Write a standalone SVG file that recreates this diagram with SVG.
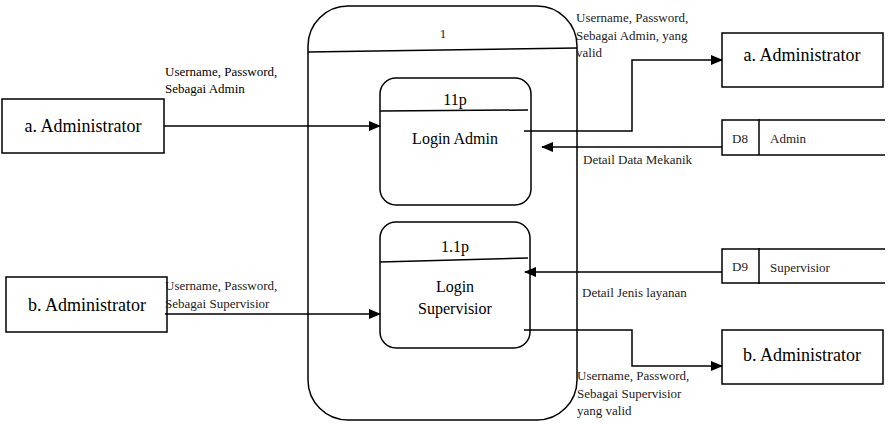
<svg xmlns="http://www.w3.org/2000/svg" width="891" height="424" viewBox="0 0 891 424">
<defs>
<marker id="ah" markerWidth="12" markerHeight="10" refX="11" refY="5" orient="auto" markerUnits="userSpaceOnUse">
<path d="M0,0 L12,5 L0,10 Z" fill="#000"/>
</marker>
<style>
.s{fill:none;stroke:#000;stroke-width:1.5}
text{font-family:'Liberation Serif',Tinos,'Times New Roman','DejaVu Serif',serif}
.t{fill:#000}
.lbl{font-size:13px;fill:#222}
.ent{font-size:18px}
.pr{font-size:16px}
.c{fill:none;stroke:#000;stroke-width:1.5}
</style>
</defs>
<rect width="891" height="424" fill="#fff"/>

<g id="process-1">
<rect x="308" y="6" width="269" height="414" rx="40" ry="40" class="s"/>
<line x1="308" y1="52" x2="577" y2="48" class="s"/>
<text x="443" y="38" text-anchor="middle" class="t lbl">1</text>
</g>

<g id="process-11p">
<rect x="380" y="78" width="151" height="127" rx="16" ry="16" class="s"/>
<line x1="380" y1="111" x2="528" y2="110" class="s"/>
<text x="455" y="105" text-anchor="middle" class="t pr">11p</text>
<text x="455" y="144" text-anchor="middle" class="t pr">Login Admin</text>
</g>

<g id="process-1.1p">
<rect x="380" y="222" width="150" height="126" rx="16" ry="16" class="s"/>
<line x1="380" y1="262" x2="528" y2="258" class="s"/>
<text x="455" y="252" text-anchor="middle" class="t pr">1.1p</text>
<text x="455" y="292" text-anchor="middle" class="t pr">Login</text>
<text x="455" y="314" text-anchor="middle" class="t pr">Supervisior</text>
</g>

<g id="ext-a-left">
<rect x="2" y="99" width="162" height="54" class="s"/>
<text x="83" y="132" text-anchor="middle" class="t ent">a. Administrator</text>
</g>

<g id="ext-b-left">
<rect x="6" y="277" width="161" height="55" class="s"/>
<text x="87" y="311" text-anchor="middle" class="t ent">b. Administrator</text>
</g>

<g id="ext-a-right">
<rect x="722" y="33" width="161" height="54" class="s"/>
<text x="802" y="61" text-anchor="middle" class="t ent">a. Administrator</text>
</g>

<g id="ext-b-right">
<rect x="722" y="330" width="161" height="54" class="s"/>
<text x="802" y="361" text-anchor="middle" class="t ent">b. Administrator</text>
</g>

<g id="store-d8">
<polyline points="885,120 722,120 722,155 885,155" class="s"/>
<line x1="759" y1="119" x2="759" y2="155" class="s"/>
<text x="740" y="143" text-anchor="middle" class="t lbl">D8</text>
<text x="770" y="143" class="t lbl">Admin</text>
</g>

<g id="store-d9">
<polyline points="885,249 722,249 722,283 885,283" class="s"/>
<line x1="759" y1="248" x2="759" y2="284" class="s"/>
<text x="740" y="271" text-anchor="middle" class="t lbl">D9</text>
<text x="770" y="272" class="t lbl">Supervisior</text>
</g>

<g id="connectors">
<line x1="164" y1="126" x2="380" y2="126" class="c" marker-end="url(#ah)"/>
<polyline points="524,131 632,131 632,60 722,60" class="c" marker-end="url(#ah)"/>
<line x1="722" y1="147" x2="542" y2="147" class="c" marker-end="url(#ah)"/>
<line x1="722" y1="272" x2="525" y2="272" class="c" marker-end="url(#ah)"/>
<line x1="165" y1="314" x2="380" y2="314" class="c" marker-end="url(#ah)"/>
<polyline points="524,330 632,330 632,366 722,366" class="c" marker-end="url(#ah)"/>
</g>

<g id="labels">
<text class="t lbl" x="165" y="76" style="fill:#000">Username, Password,</text>
<text class="t lbl" x="165" y="93" style="fill:#000">Sebagai Admin</text>
<text class="t lbl" x="576" y="22">Username, Password,</text>
<text class="t lbl" x="576" y="40">Sebagai Admin, yang</text>
<text class="t lbl" x="576" y="57">valid</text>
<text class="t lbl" x="583" y="164">Detail Data Mekanik</text>
<text class="t lbl" x="582" y="297">Detail Jenis layanan</text>
<text class="t lbl" x="165" y="290">Username, Password,</text>
<text class="t lbl" x="165" y="308">Sebagai Supervisior</text>
<text class="t lbl" x="577" y="380">Username, Password,</text>
<text class="t lbl" x="577" y="398">Sebagai Supervisior</text>
<text class="t lbl" x="577" y="415">yang valid</text>
</g>
</svg>
